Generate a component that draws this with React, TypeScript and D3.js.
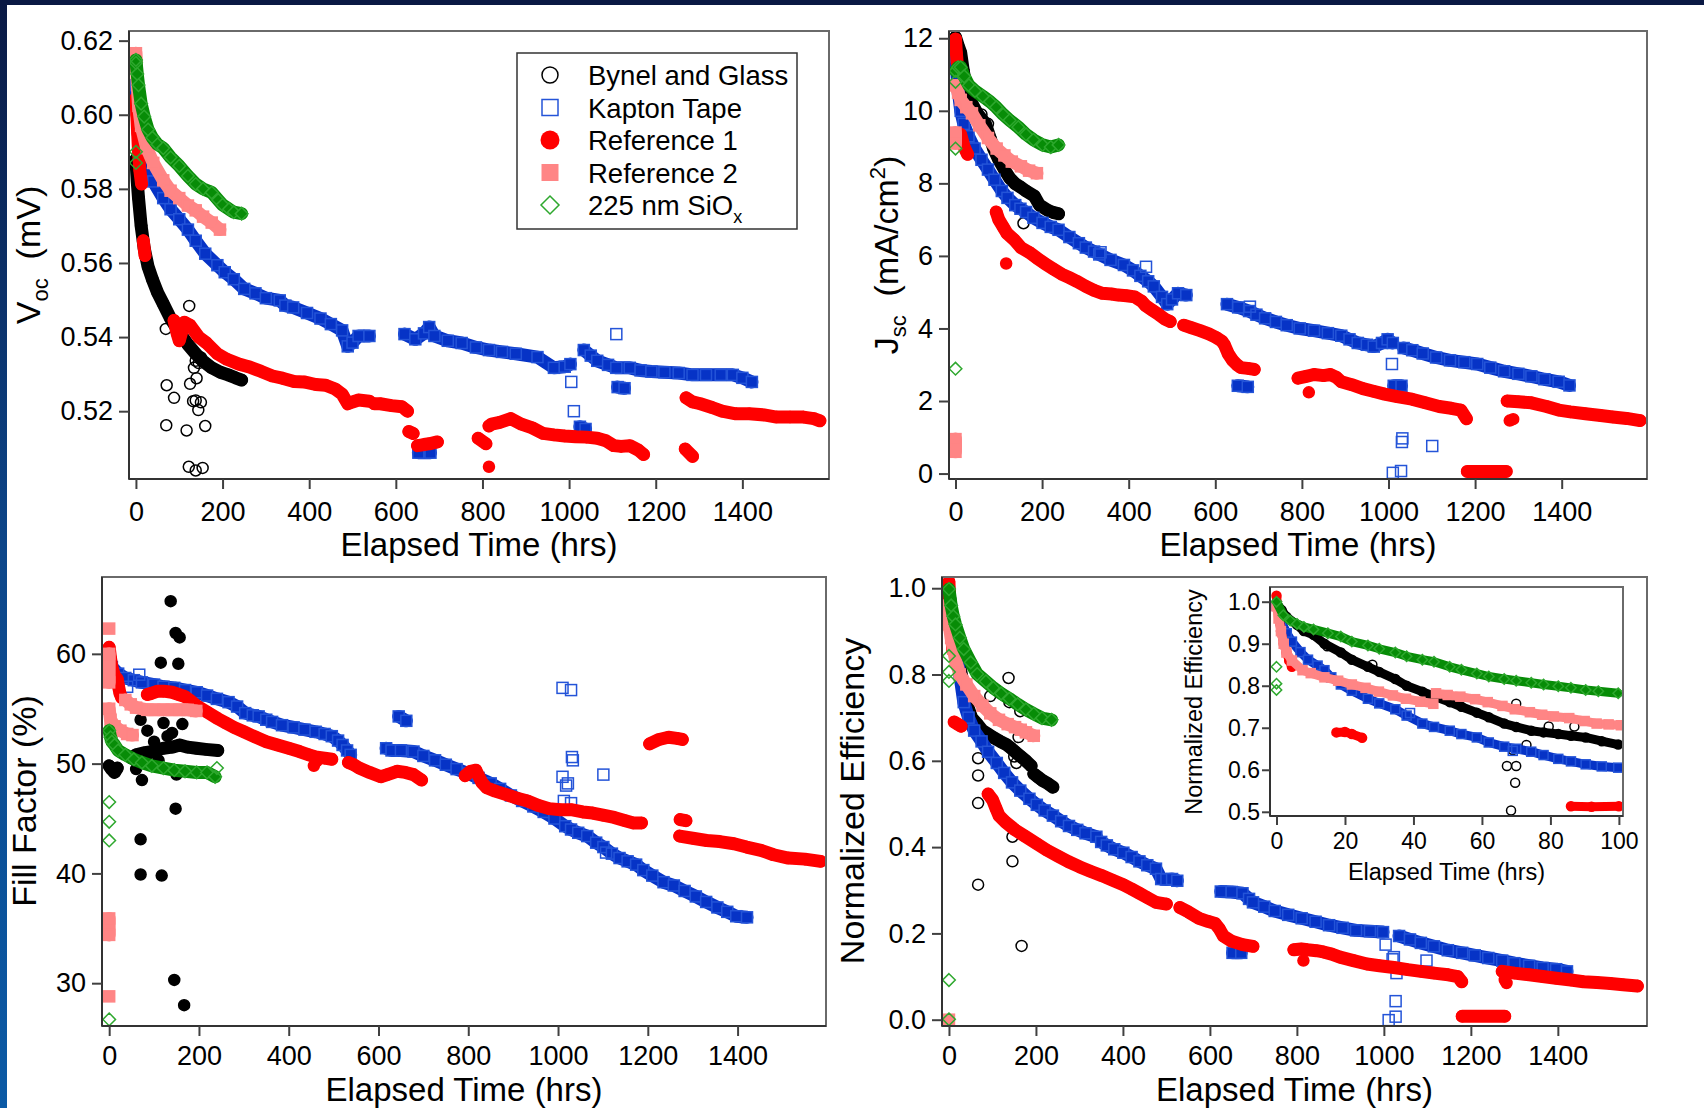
import * as d3 from "d3";
import React, { useEffect, useRef } from "react";

type P = [number, number] | null;

const FONT = '"Liberation Sans", Arial, Helvetica, sans-serif';

// ---- tick values ----
const timeTicks = [0, 200, 400, 600, 800, 1000, 1200, 1400];
const vocTicks = [0.52, 0.54, 0.56, 0.58, 0.6, 0.62];
const jscTicks = [0, 2, 4, 6, 8, 10, 12];
const ffTicks = [30, 40, 50, 60];
const effTicks = [0, 0.2, 0.4, 0.6, 0.8, 1.0];
const insetTimeTicks = [0, 20, 40, 60, 80, 100];
const insetEffTicks = [0.5, 0.6, 0.7, 0.8, 0.9, 1.0];

const legendKeys = ["bynel", "kapton", "ref1", "ref2", "siox"];
const legendLabels = ["Bynel and Glass", "Kapton Tape", "Reference 1", "Reference 2", "225 nm SiO"];

// ---- Voc (V) vs elapsed time (hrs) ----
const vocBynel: P[] = [[0,0.588],[3,0.582],[6,0.5775],[12,0.570],[19,0.564],[28,0.559],[38,0.5556],[50,0.552],[63,0.549],[80,0.545],[100,0.5413],[120,0.538],[138,0.5355],[155,0.5335],[175,0.5317],[195,0.5305],[213,0.5298],[230,0.529],[244,0.5284]];
const vocBynelPts: P[] = [[69,0.5422],[123,0.5484],[71,0.527],[88,0.5236],[70,0.5162],[117,0.5148],[160,0.516],[122,0.505],[138,0.504],[154,0.5047],[125,0.5274],[138,0.5229],[140,0.5289],[134,0.5317],[138,0.5336],[150,0.5224],[144,0.5203],[132,0.5227],[145,0.533],[150,0.5345]];
const vocKapton: P[] = [[0,0.608],[3,0.600],[6,0.5957],[15,0.590],[25,0.587],[40,0.582],[63,0.5775],[80,0.5745],[100,0.5718],[120,0.569],[138,0.566],[160,0.5625],[188,0.5594],[205,0.5575],[226,0.5556],[250,0.553],[276,0.5518],[300,0.5505],[332,0.5499],[345,0.5485],[363,0.548],[395,0.5465],[426,0.545],[450,0.5435],[476,0.5418],[489,0.5375],[500,0.5385],[514,0.5403],[539,0.5403],null,[620,0.5408],[645,0.5394],[665,0.541],[677,0.5427],[689,0.5403],[720,0.539],[752,0.5384],[785,0.5372],[815,0.5365],[845,0.536],[877,0.5355],[927,0.5346],[965,0.5317],[990,0.532],[1003,0.5327],null,[1034,0.5365],[1050,0.535],[1065,0.5336],[1090,0.5325],[1109,0.5317],[1140,0.5317],[1165,0.531],[1190,0.5307],[1220,0.5305],[1253,0.5303],[1285,0.5298],[1316,0.5298],[1350,0.5298],[1378,0.5298],[1400,0.529],[1422,0.5279],null,[652,0.5088],[680,0.5088],null,[1112,0.5265],[1128,0.5262],null,[1025,0.5158],[1038,0.5152]];
const vocKaptonPts: P[] = [[1005,0.5279],[1011,0.52],[1109,0.5408]];
const vocRef1: P[] = [[0,0.6045],[2,0.600],[4,0.595],[6,0.590],[9,0.585],[13,0.5813],null,[17,0.566],[21,0.562],null,[88,0.5445],[95,0.541],[100,0.539],[112,0.544],[125,0.5432],[145,0.540],[163,0.5384],[188,0.5355],[210,0.534],[238,0.5327],[260,0.532],[288,0.5308],[315,0.5295],[338,0.5289],[365,0.528],[388,0.5279],[415,0.5272],[438,0.527],[460,0.526],[476,0.5246],[489,0.522],[500,0.5225],[514,0.523],[539,0.5227],null,[550,0.522],[564,0.522],[590,0.5215],[614,0.5212],[627,0.52],null,[630,0.5145],[640,0.514],null,[650,0.5107],[665,0.511],[677,0.5112],[696,0.5117],null,[790,0.5127],[808,0.5112],null,[815,0.516],[821,0.5165],[840,0.517],[865,0.518],[890,0.5165],[915,0.5155],[940,0.514],[965,0.5136],[990,0.5133],[1015,0.5131],[1040,0.513],[1065,0.5127],[1085,0.512],[1103,0.5107],[1120,0.5105],[1140,0.5107],[1160,0.5095],[1172,0.5083],null,[1268,0.5098],[1285,0.5078],null,[1270,0.5236],[1285,0.5225],[1303,0.522],[1330,0.521],[1353,0.52],[1385,0.5193],[1416,0.5193],[1450,0.519],[1479,0.5184],[1510,0.5184],[1541,0.5184],[1565,0.518],[1579,0.5174]];
const vocRef1Pts: P[] = [[815,0.505]];
const vocRef2: P[] = [[0,0.6166],[3,0.608],[6,0.6024],[12,0.597],[25,0.591],[40,0.587],[63,0.5823],[80,0.5795],[100,0.5775],[120,0.5755],[138,0.5742],[155,0.5725],[175,0.5709],[194,0.569]];
const vocRef2Pts: P[] = [];
const vocSiox: P[] = [[0,0.6148],[3,0.611],[6,0.608],[12,0.603],[19,0.5995],[28,0.596],[38,0.5938],[50,0.592],[63,0.591],[80,0.5885],[100,0.5862],[120,0.5835],[138,0.5813],[155,0.580],[175,0.579],[190,0.577],[200,0.5757],[215,0.5745],[226,0.5737],[244,0.5733]];
const vocSioxPts: P[] = [[0,0.59],[0,0.587],[0,0.614]];

// ---- Jsc (mA/cm2) ----
const jscBynel: P[] = [[0,12.03],[6,11.8],[12,11.6],[18,11.1],[25,10.6],[38,10.2],[50,9.93],[69,9.64],[80,9.25],[88,8.96],[100,8.65],[113,8.38],[125,8.15],[138,7.99],[150,7.9],[163,7.79],[182,7.65],[194,7.4],[213,7.26],[225,7.2],[238,7.16]];
const jscBynelPts: P[] = [[75,9.64],[157,6.9],[60,9.9]];
const jscKapton: P[] = [[0,11.5],[6,10.6],[12,10.0],[19,9.64],[30,9.3],[44,8.96],[60,8.65],[75,8.38],[90,8.1],[107,7.79],[120,7.6],[138,7.4],[150,7.3],[163,7.21],[180,7.05],[201,6.91],[220,6.8],[238,6.72],[263,6.52],[285,6.35],[301,6.23],[320,6.12],[332,6.04],[358,5.89],[389,5.75],[410,5.6],[427,5.45],[445,5.3],[458,5.16],[477,4.87],[489,4.67],[500,4.8],[514,4.97],[533,4.92],null,[627,4.67],[653,4.58],[678,4.48],[695,4.38],[715,4.28],[740,4.18],[765,4.09],[795,4.0],[828,3.94],[860,3.87],[891,3.8],[910,3.7],[929,3.6],[950,3.55],[966,3.5],[985,3.6],[998,3.7],[1010,3.6],null,[1035,3.46],[1055,3.4],[1079,3.31],[1110,3.2],[1142,3.12],[1175,3.07],[1205,3.02],[1235,2.92],[1267,2.82],[1300,2.75],[1330,2.68],[1360,2.6],[1393,2.53],[1418,2.43],null,[652,2.42],[675,2.39],null,[1012,2.42],[1030,2.42]];
const jscKaptonPts: P[] = [[1008,3.02],[1031,0.87],[1032,0.97],[1101,0.76],[1010,0.02],[1029,0.07],[335,6.1],[440,5.7],[680,4.6]];
const jscRef1: P[] = [[0,11.98],[2,11.6],[4,11.3],null,[12,9.35],[20,9.0],[28,8.8],null,[94,7.21],[100,7.0],[110,6.8],[119,6.62],[135,6.45],[151,6.23],[170,6.1],[188,5.94],[205,5.8],[226,5.64],[245,5.5],[263,5.4],[280,5.3],[301,5.16],[320,5.05],[339,4.97],[360,4.95],[376,4.92],[395,4.9],[414,4.87],[430,4.75],[439,4.63],[455,4.5],[470,4.38],[485,4.25],[496,4.19],null,[527,4.09],[545,4.02],[565,3.94],[585,3.85],[602,3.75],[615,3.65],[621,3.55],[630,3.3],[640,3.12],[650,3.0],[659,2.92],[675,2.9],[690,2.87],null,[791,2.63],[810,2.68],[828,2.73],[850,2.7],[866,2.73],[880,2.65],[891,2.53],[915,2.45],[941,2.34],[965,2.27],[991,2.19],[1020,2.12],[1054,2.05],[1085,1.95],[1117,1.85],[1145,1.8],[1167,1.75],[1180,1.51],null,[1182,0.06],[1272,0.06],null,[1274,2.0],[1300,1.98],[1330,1.95],[1365,1.85],[1393,1.75],[1420,1.7],[1455,1.65],[1490,1.6],[1518,1.56],[1550,1.52],[1581,1.46]];
const jscRef1Pts: P[] = [[117,5.79],[816,2.24],[1280,1.46],[1288,1.5]];
const jscRef2: P[] = [[0,10.7],[6,10.5],[12,10.3],[25,10.1],[38,9.93],[55,9.6],[75,9.25],[95,8.96],[113,8.77],[130,8.6],[151,8.47],[170,8.35],[188,8.28],null,[0,9.4],[0,9.1],null,[0,0.95],[0,0.6]];
const jscRef2Pts: P[] = [];
const jscSiox: P[] = [[0,11.1],[6,11.2],[12,11.2],[20,10.95],[31,10.7],[45,10.55],[63,10.4],[80,10.25],[94,10.1],[110,9.9],[125,9.74],[145,9.55],[163,9.35],[180,9.2],[201,9.06],[220,9.0],[238,9.06]];
const jscSioxPts: P[] = [[0,8.96],[0,2.89],[0,10.8]];

// ---- Fill factor (%) ----
const ffBynel: P[] = [[0,49.8],[5,49.5],[12,49.2],[18,49.6],null,[50,50.5],[60,50.8],[80,51.0],[97,51.1],[110,51.3],[121,51.4],[140,51.5],[157,51.7],[175,51.5],[194,51.4],[215,51.3],[242,51.2]];
const ffBynelPts: P[] = [[137,64.8],[148,61.9],[157,61.5],[115,59.2],[154,59.1],[70,54.0],[85,53.0],[121,53.7],[163,53.6],[73,48.5],[148,45.9],[70,43.1],[70,39.9],[117,39.8],[145,30.3],[167,28.0],[100,52.0],[130,52.5],[150,49.0],[90,50.0],[140,52.8],[60,49.5],[110,50.3]];
const ffKapton: P[] = [[0,59.0],[6,58.8],[20,58.2],[36,57.8],[55,57.6],[73,57.4],[100,57.2],[121,57.0],[145,56.9],[169,56.7],[195,56.5],[218,56.2],[240,55.9],[266,55.6],[285,55.2],[303,54.6],[320,54.4],[333,54.3],[350,54.0],[363,53.8],[385,53.5],[411,53.3],[435,53.1],[460,52.9],[480,52.7],[496,52.5],[510,52.1],[520,51.7],[530,51.2],[538,50.8],null,[617,51.4],[629,51.2],[650,51.2],[678,51.1],[700,50.7],[726,50.3],[750,49.9],[774,49.5],[800,49.1],[823,48.7],[850,48.2],[871,47.7],[895,47.1],[920,46.6],[945,46.1],[968,45.6],[992,45.0],[1016,44.3],[1029,44.0],[1045,43.7],[1065,43.4],[1085,42.8],[1101,42.4],[1120,41.8],[1137,41.4],[1155,41.1],[1174,40.8],[1190,40.3],[1210,39.8],[1235,39.2],[1258,38.9],[1282,38.4],[1307,37.9],[1330,37.4],[1355,36.9],[1377,36.5],[1397,36.1],[1421,36.0],null,[645,54.3],[662,53.9]];
const ffKaptonPts: P[] = [[1010,56.9],[1029,56.7],[1031,50.6],[1033,50.3],[1101,49.0],[1010,48.8],[1022,48.2],[1018,48.0],[1013,46.6],[1029,46.4],[1107,41.9],[67,58.1],[40,57.0]];
const ffRef1: P[] = [[0,60.6],[3,59.6],[6,58.8],[12,58.0],[18,57.7],[21,57.0],[24,56.4],[28,56.0],null,[85,56.3],[94,56.4],[108,56.6],[121,56.6],[140,56.5],[155,56.3],[169,56.1],[182,55.7],[194,55.3],[218,54.7],[242,54.1],[260,53.7],[278,53.3],[300,52.9],[327,52.4],[350,52.0],[375,51.7],[400,51.4],[424,51.1],[445,50.8],[460,50.6],[480,50.5],[496,50.4],null,[533,50.1],[545,49.9],[557,49.6],[580,49.2],[605,48.8],[620,49.0],[641,49.3],[660,49.2],[678,49.0],[696,48.5],null,[793,48.9],[805,49.3],[817,49.4],[830,48.3],[841,47.8],[860,47.5],[883,47.2],[905,46.9],[932,46.6],[955,46.2],[980,45.9],[1005,45.8],[1029,45.8],[1055,45.6],[1077,45.5],[1100,45.3],[1125,45.1],[1150,44.8],[1168,44.6],[1186,44.6],null,[1204,51.8],[1225,52.2],[1246,52.4],[1265,52.3],[1277,52.2],null,[1272,44.9],[1285,44.8],null,[1271,43.4],[1300,43.2],[1331,43.0],[1360,42.9],[1392,42.7],[1420,42.4],[1452,42.1],[1480,41.7],[1513,41.4],[1550,41.3],[1585,41.1]];
const ffRef1Pts: P[] = [[456,49.8],[462,50.2]];
const ffRef2: P[] = [[0,60.0],[0,57.4],null,[0,55.0],[3,54.0],[12,53.4],[25,53.0],[40,52.7],[52,52.6],null,[36,55.8],[48,55.4],[60,55.1],[85,54.9],[100,54.9],[121,54.9],[140,54.9],[157,54.9],[175,54.9],[194,54.8],null,[0,35.9],[0,34.4]];
const ffRef2Pts: P[] = [[0,62.3],[0,28.8]];
const ffSiox: P[] = [[0,53.0],[3,52.4],[6,52.0],[12,51.7],[20,51.2],[36,50.8],[55,50.4],[73,50.1],[95,49.8],[121,49.6],[145,49.4],[169,49.3],[195,49.2],[218,49.2],[236,48.8]];
const ffSioxPts: P[] = [[0,46.5],[0,44.7],[0,43.0],[0,26.7],[240,49.6]];

// ---- Normalized efficiency ----
const effBynel: P[] = [[0,0.99],[5,0.95],[10,0.91],[15,0.875],[25,0.82],[34,0.77],[42,0.73],[52,0.70],[65,0.685],[77,0.67],[90,0.662],[102,0.654],[118,0.645],[133,0.637],[142,0.63],[152,0.621],[165,0.61],[177,0.60],[189,0.588],null,[195,0.57],[205,0.562],[214,0.555],[228,0.547],[239,0.539]];
const effBynelPts: P[] = [[137,0.792],[139,0.736],[164,0.715],[67,0.606],[67,0.566],[67,0.502],[67,0.313],[146,0.424],[146,0.367],[167,0.171],[95,0.75],[150,0.61],[160,0.655],[155,0.595]];
const effKapton: P[] = [[0,0.99],[5,0.95],[10,0.91],[15,0.875],[25,0.80],[34,0.736],[45,0.70],[58,0.67],[75,0.645],[90,0.621],[110,0.595],[127,0.572],[145,0.55],[164,0.531],[185,0.512],[202,0.498],[220,0.485],[239,0.473],[258,0.46],[276,0.449],[295,0.44],[314,0.432],[339,0.424],null,[350,0.412],[363,0.404],[380,0.395],[401,0.387],[420,0.377],[438,0.367],[456,0.358],[476,0.35],[488,0.326],[500,0.325],[513,0.326],[525,0.322],null,[625,0.297],[650,0.296],[675,0.293],[690,0.28],[699,0.272],[725,0.262],[749,0.252],[780,0.243],[811,0.235],[843,0.227],[874,0.219],[905,0.213],[936,0.207],[968,0.205],[998,0.203],null,[1035,0.194],[1060,0.186],[1085,0.178],[1115,0.17],[1147,0.161],[1180,0.155],[1209,0.149],[1240,0.143],[1272,0.137],[1300,0.131],[1334,0.125],[1365,0.12],[1396,0.117],[1421,0.112],null,[652,0.155],[672,0.155]];
const effKaptonPts: P[] = [[1004,0.174],[1023,0.145],[1029,0.108],[1098,0.137],[1027,0.043],[1027,0.007],[1011,-0.001],[1020,0.14]];
const effRef1: P[] = [[0,1.015],[2,0.96],[4,0.92],[7,0.88],[9,0.855],null,[12,0.69],[20,0.685],[28,0.68],null,[90,0.523],[100,0.51],[108,0.49],[115,0.473],[130,0.458],[152,0.44],[175,0.425],[202,0.408],[225,0.393],[251,0.379],[275,0.366],[301,0.354],[325,0.344],[351,0.334],[375,0.324],[401,0.313],[420,0.303],[438,0.293],[456,0.283],[476,0.272],[500,0.268],null,[531,0.26],[550,0.25],[575,0.235],[595,0.228],[612,0.223],[622,0.21],[631,0.194],[650,0.182],[675,0.174],[699,0.17],null,[793,0.162],[810,0.164],[824,0.162],[845,0.16],[861,0.157],[880,0.152],[899,0.145],[930,0.137],[961,0.129],[990,0.125],[1023,0.121],[1055,0.116],[1085,0.112],[1115,0.108],[1148,0.104],[1170,0.1],[1179,0.088],null,[1180,0.008],[1278,0.008],null,[1272,0.112],[1300,0.108],[1334,0.104],[1365,0.1],[1396,0.096],[1430,0.092],[1459,0.088],[1490,0.086],[1521,0.084],[1550,0.081],[1583,0.078]];
const effRef1Pts: P[] = [[815,0.137],[1278,0.092],[1282,0.085]];
const effRef2: P[] = [[0,0.96],[0,0.916],[5,0.885],[10,0.86],[15,0.834],[25,0.80],[40,0.777],[58,0.75],[77,0.728],[95,0.71],[115,0.695],[135,0.685],[152,0.678],[165,0.672],[177,0.666],[195,0.658]];
const effRef2Pts: P[] = [[0,0.0]];
const effSiox: P[] = [[0,0.998],[5,0.96],[10,0.935],[15,0.916],[25,0.885],[34,0.859],[50,0.828],[65,0.801],[85,0.784],[102,0.769],[120,0.756],[139,0.744],[158,0.731],[177,0.719],[195,0.709],[214,0.699],[236,0.695]];
const effSioxPts: P[] = [[0,0.843],[0,0.806],[0,0.785],[0,0.092],[0,0.001]];

// ---- inset: first 100 hrs ----
const insBynel: P[] = [[0,0.997],[1.5,0.98],[2.9,0.964],[6,0.945],[8,0.93],[10.8,0.921],[14,0.9],[18.8,0.879],[22,0.862],[26.7,0.845],[30,0.833],[34.7,0.816],[38,0.8],[42.6,0.786],[46,0.775],[50.6,0.761],[54,0.75],[58.5,0.736],[62,0.725],[66.5,0.71],[70,0.702],[74.4,0.693],[78,0.689],[82.3,0.685],[86,0.681],[90.3,0.677],[95,0.668],[99.8,0.66]];
const insBynelPts: P[] = [[14.8,0.894],[70,0.757],[67.3,0.609],[70,0.609],[69.7,0.569],[68.5,0.503],[73,0.659],[79.5,0.703],[87,0.703],[69,0.647],[28,0.85]];
const insKapton: P[] = [[0,0.99],[1.3,0.955],[3,0.925],[4.5,0.905],[7,0.88],[9.2,0.862],[12,0.848],[14,0.837],[16,0.82],[18.8,0.803],[22,0.788],[26.7,0.769],[30,0.758],[34.7,0.744],[38,0.729],[42.6,0.71],[46,0.702],[50.6,0.693],[54,0.685],[58.5,0.677],[62,0.665],[66.5,0.655],[70,0.65],[74.4,0.643],[78,0.635],[82.3,0.626],[86,0.62],[90.3,0.613],[95,0.608],[99.8,0.605]];
const insKaptonPts: P[] = [[39,0.735],[69,0.645]];
const insRef1: P[] = [[0,1.014],[0.5,0.98],[1.3,0.93],[2.1,0.9],[2.9,0.879],[3.7,0.86],[4.5,0.845],null,[17.5,0.689],[20,0.69],[22,0.685],[25,0.676],null,[86,0.513],[92,0.512],[100,0.513]];
const insRef1Pts: P[] = [];
const insRef2: P[] = [[0,0.989],[0.6,0.96],[1.3,0.93],[2.1,0.9],[2.9,0.879],[4.5,0.86],[7.6,0.837],[10,0.83],[14,0.82],[18,0.812],[22,0.803],[26,0.795],[29.9,0.786],[34,0.777],[37.8,0.769],[42,0.762],[45.8,0.757],null,[46.6,0.782],[50,0.778],[53.7,0.774],[58,0.768],[61.7,0.761],[66,0.752],[69.6,0.744],[74,0.737],[77.6,0.731],[81,0.727],[85.5,0.723],[90,0.716],[93.5,0.71],[97,0.708],[100.6,0.706]];
const insRef2Pts: P[] = [];
const insSiox: P[] = [[0,1.0],[2,0.968],[4,0.955],[6,0.947],[8,0.94],[10.8,0.934],[15,0.925],[18.8,0.917],[22,0.905],[26.7,0.896],[30,0.888],[34.7,0.879],[38,0.87],[42.6,0.862],[46,0.857],[50.6,0.845],[54,0.838],[58.5,0.829],[62,0.822],[66.5,0.816],[70,0.812],[74.4,0.807],[78,0.803],[82.3,0.799],[86,0.795],[90.3,0.79],[94,0.787],[99.8,0.782]];
const insSioxPts: P[] = [[0,0.845],[0,0.805],[0,0.79]];

// marker looks for the five samples
const STYLES: Record<string, { color: string; band: string; shape: string; filled: boolean }> = {
  bynel: { color: "#000000", band: "#000000", shape: "circle", filled: false },
  kapton: { color: "#2454d8", band: "#0633c6", shape: "square", filled: false },
  ref1: { color: "#ff0000", band: "#ff0000", shape: "circle", filled: true },
  ref2: { color: "#ff8585", band: "#ff8585", shape: "square", filled: true },
  siox: { color: "#2ea82e", band: "#078c07", shape: "diamond", filled: false },
};

type Series = { key: string; data: P[]; pts: P[]; filled?: boolean };

const Marker = ({ shape, x, y, size, fill, stroke, sw }: any) => {
  const h = size / 2;
  if (shape === "circle")
    return <circle cx={x} cy={y} r={h} fill={fill} stroke={stroke} strokeWidth={sw} />;
  if (shape === "square")
    return <rect x={x - h} y={y - h} width={size} height={size} fill={fill} stroke={stroke} strokeWidth={sw} />;
  const d = h * 1.15;
  return <path d={`M${x},${y - d}L${x + d},${y}L${x},${y + d}L${x - d},${y}Z`} fill={fill} stroke={stroke} strokeWidth={sw} />;
};

const Axis = ({ scale, orient, ticks, fmt, pad, font, size, transform }: any) => {
  const ref = useRef<SVGGElement>(null);
  useEffect(() => {
    const axis = (orient === "bottom" ? d3.axisBottom(scale) : d3.axisLeft(scale))
      .tickValues(ticks)
      .tickFormat(fmt)
      .tickSizeInner(size)
      .tickSizeOuter(0)
      .tickPadding(pad);
    const g = d3.select(ref.current as SVGGElement);
    g.call(axis as any);
    g.select(".domain").remove();
    g.attr("font-size", font).attr("font-family", FONT);
    g.selectAll("line").attr("stroke", "#404040").attr("stroke-width", 2);
    g.selectAll("text").attr("fill", "#000");
  }, [scale, orient, ticks, fmt, pad, font, size]);
  return <g ref={ref} transform={transform} />;
};

const Plot = ({ id, box, xd, yd, series, mk, bw }: any) => {
  const x = d3.scaleLinear().domain(xd).range([box.l, box.r]);
  const y = d3.scaleLinear().domain(yd).range([box.b, box.t]);
  const line = d3
    .line<P>()
    .defined((d) => d !== null)
    .x((d) => x((d as [number, number])[0]))
    .y((d) => y((d as [number, number])[1]));
  return (
    <g>
      <clipPath id={id}>
        <rect x={box.l} y={box.t} width={box.r - box.l} height={box.b - box.t} />
      </clipPath>
      <g clipPath={`url(#${id})`}>
        {series.map((s: Series) => {
          const st = STYLES[s.key];
          const filled = s.filled ?? st.filled;
          return (
            <g key={s.key}>
              <path d={line(s.data) || ""} fill="none" stroke={st.band} strokeWidth={bw}
                strokeLinecap="round" strokeLinejoin="round" />
              {s.data.filter((d) => d !== null).map((d, i) => (
                <Marker key={"k" + i} shape={st.shape} x={x(d![0])} y={y(d![1])} size={mk}
                  fill={st.band} stroke={filled ? st.band : st.color} sw={1.5} />
              ))}
              {s.pts.map((d, i) => (
                <Marker key={"p" + i} shape={st.shape} x={x(d![0])} y={y(d![1])} size={mk}
                  fill={filled ? st.color : "none"} stroke={st.color} sw={1.5} />
              ))}
            </g>
          );
        })}
      </g>
    </g>
  );
};

const Frame = ({ box }: any) => (
  <g>
    <rect x={box.l} y={box.t} width={box.r - box.l} height={box.b - box.t} fill="none" stroke="#6a6a6a" strokeWidth={2} />
    <line x1={box.l} x2={box.l} y1={box.t} y2={box.b} stroke="#333" strokeWidth={2} />
    <line x1={box.l} x2={box.r} y1={box.b} y2={box.b} stroke="#333" strokeWidth={2} />
  </g>
);

const f2 = d3.format(".2f");
const f1 = d3.format(".1f");
const f0 = d3.format("d");

const panels = [
  {
    id: "voc", box: { l: 129, r: 829, t: 31, b: 479 }, xd: [-16, 1600], yd: [0.5017, 0.6226], yTicks: vocTicks, fmt: f2,
    titleY: 556, xPad: 13,
    series: [
      { key: "bynel", data: vocBynel, pts: vocBynelPts },
      { key: "kapton", data: vocKapton, pts: vocKaptonPts },
      { key: "ref1", data: vocRef1, pts: vocRef1Pts },
      { key: "ref2", data: vocRef2, pts: vocRef2Pts },
      { key: "siox", data: vocSiox, pts: vocSioxPts },
    ],
  },
  {
    id: "jsc", box: { l: 949, r: 1647, t: 31, b: 479 }, xd: [-15, 1597], yd: [-0.15, 12.2], yTicks: jscTicks, fmt: f0,
    titleY: 556, xPad: 13,
    series: [
      { key: "bynel", data: jscBynel, pts: jscBynelPts },
      { key: "kapton", data: jscKapton, pts: jscKaptonPts },
      { key: "ref1", data: jscRef1, pts: jscRef1Pts },
      { key: "ref2", data: jscRef2, pts: jscRef2Pts },
      { key: "siox", data: jscSiox, pts: jscSioxPts },
    ],
  },
  {
    id: "ff", box: { l: 102, r: 826, t: 577, b: 1026 }, xd: [-16, 1597], yd: [26.1, 67], yTicks: ffTicks, fmt: f0,
    titleY: 1101, xPad: 10,
    series: [
      { key: "bynel", data: ffBynel, pts: ffBynelPts, filled: true },
      { key: "kapton", data: ffKapton, pts: ffKaptonPts },
      { key: "ref1", data: ffRef1, pts: ffRef1Pts },
      { key: "ref2", data: ffRef2, pts: ffRef2Pts },
      { key: "siox", data: ffSiox, pts: ffSioxPts },
    ],
  },
  {
    id: "eff", box: { l: 942, r: 1647, t: 577, b: 1026 }, xd: [-16, 1605], yd: [-0.0146, 1.026], yTicks: effTicks, fmt: f1,
    titleY: 1101, xPad: 10,
    series: [
      { key: "bynel", data: effBynel, pts: effBynelPts },
      { key: "kapton", data: effKapton, pts: effKaptonPts },
      { key: "ref1", data: effRef1, pts: effRef1Pts },
      { key: "ref2", data: effRef2, pts: effRef2Pts },
      { key: "siox", data: effSiox, pts: effSioxPts },
    ],
  },
];

const inset = {
  id: "inset", box: { l: 1270, r: 1623, t: 587, b: 816 }, xd: [-1.9, 101.2], yd: [0.49, 1.035],
  series: [
    { key: "bynel", data: insBynel, pts: insBynelPts },
    { key: "kapton", data: insKapton, pts: insKaptonPts },
    { key: "ref1", data: insRef1, pts: insRef1Pts },
    { key: "ref2", data: insRef2, pts: insRef2Pts },
    { key: "siox", data: insSiox, pts: insSioxPts },
  ],
};

const LegendMarker = ({ k, x, y }: any) => {
  const st = STYLES[k];
  if (k === "bynel") return <circle cx={x} cy={y} r={8} fill="none" stroke="#000" strokeWidth={1.5} />;
  if (k === "kapton") return <rect x={x - 8} y={y - 8} width={16} height={16} fill="none" stroke={st.color} strokeWidth={1.5} />;
  if (k === "ref1") return <circle cx={x} cy={y} r={9.5} fill={st.color} />;
  if (k === "ref2") return <rect x={x - 8.5} y={y - 8.5} width={17} height={17} fill={st.color} />;
  return <path d={`M${x},${y - 9}L${x + 9},${y}L${x},${y + 9}L${x - 9},${y}Z`} fill="none" stroke={st.color} strokeWidth={1.5} />;
};

const App = () => {
  const W = 1704;
  const H = 1108;
  return (
    <div style={{ position: "absolute", left: 0, top: 0 }}>
      <svg width={W} height={H} style={{ display: "block" }} fontFamily={FONT}>
        <defs>
          <linearGradient id="edge" x1="0" y1="0" x2="0" y2="1">
            <stop offset="0" stopColor="#0a1944" />
            <stop offset="0.5" stopColor="#0c468a" />
            <stop offset="1" stopColor="#0b5aa5" />
          </linearGradient>
        </defs>
        <rect x={0} y={0} width={W} height={H} fill="#ffffff" />
        <rect x={0} y={0} width={7} height={H} fill="url(#edge)" />
        <rect x={0} y={0} width={W} height={5} fill="#0a1944" />

        {panels.map((p) => {
          const x = d3.scaleLinear().domain(p.xd).range([p.box.l, p.box.r]);
          const y = d3.scaleLinear().domain(p.yd).range([p.box.b, p.box.t]);
          return (
            <g key={p.id}>
              <Plot id={p.id} box={p.box} xd={p.xd} yd={p.yd} series={p.series} mk={11} bw={13} />
              <Frame box={p.box} />
              <Axis scale={x} orient="bottom" ticks={timeTicks} fmt={f0} pad={p.xPad} size={10} font={27}
                transform={`translate(0,${p.box.b})`} />
              <Axis scale={y} orient="left" ticks={p.yTicks} fmt={p.fmt} pad={6} size={10} font={27}
                transform={`translate(${p.box.l},0)`} />
              <text x={(p.box.l + p.box.r) / 2} y={p.titleY} fontSize={33} textAnchor="middle">
                Elapsed Time (hrs)
              </text>
            </g>
          );
        })}

        {/* y axis titles */}
        <text transform="translate(40,255) rotate(-90)" fontSize={34} textAnchor="middle">
          V<tspan fontSize={22} dy={8}>oc</tspan>
          <tspan dy={-8}>{"\u00a0 (mV)"}</tspan>
        </text>
        <text transform="translate(898,255) rotate(-90)" fontSize={34} textAnchor="middle">
          J<tspan fontSize={22} dy={8}>sc</tspan>
          <tspan dy={-8}>{"\u00a0 (mA/cm"}</tspan>
          <tspan fontSize={22} dy={-13}>2</tspan>
          <tspan dy={13}>)</tspan>
        </text>
        <text transform="translate(36,801) rotate(-90)" fontSize={34} textAnchor="middle">
          Fill Factor (%)
        </text>
        <text transform="translate(864,801) rotate(-90)" fontSize={34} textAnchor="middle">
          Normalized Efficiency
        </text>

        {/* legend */}
        <g>
          <rect x={517} y={53} width={280} height={176} fill="#fff" stroke="#333" strokeWidth={1.5} />
          {legendKeys.map((k, i) => {
            const cy = 75 + i * 32.5;
            return (
              <g key={k}>
                <LegendMarker k={k} x={550} y={cy} />
                <text x={588} y={cy + 10} fontSize={27.5}>
                  {legendLabels[i]}
                  {k === "siox" && <tspan fontSize={18} dy={8}>x</tspan>}
                </text>
              </g>
            );
          })}
        </g>

        {/* inset */}
        {(() => {
          const b = inset.box;
          const x = d3.scaleLinear().domain(inset.xd).range([b.l, b.r]);
          const y = d3.scaleLinear().domain(inset.yd).range([b.b, b.t]);
          return (
            <g>
              <rect x={b.l} y={b.t} width={b.r - b.l} height={b.b - b.t} fill="#fff" />
              <Plot id="inset" box={b} xd={inset.xd} yd={inset.yd} series={inset.series} mk={9} bw={9} />
              <Frame box={b} />
              <Axis scale={x} orient="bottom" ticks={insetTimeTicks} fmt={f0} pad={8} size={9} font={23}
                transform={`translate(0,${b.b})`} />
              <Axis scale={y} orient="left" ticks={insetEffTicks} fmt={f1} pad={2} size={8} font={23}
                transform={`translate(${b.l},0)`} />
              <text x={(b.l + b.r) / 2} y={880} fontSize={23.5} textAnchor="middle">
                Elapsed Time (hrs)
              </text>
              <text transform="translate(1202,702) rotate(-90)" fontSize={23.5} textAnchor="middle">
                Normalized Efficiency
              </text>
            </g>
          );
        })()}
      </svg>
    </div>
  );
};

export default App;
